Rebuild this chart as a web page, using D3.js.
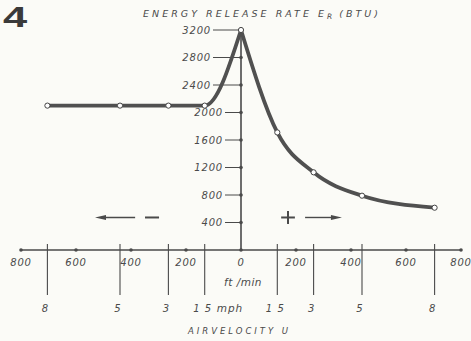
<!DOCTYPE html>
<html>
<head>
<meta charset="utf-8">
<script src="https://cdn.jsdelivr.net/npm/d3@7/dist/d3.min.js"></script>
<style>
  html, body { margin: 0; padding: 0; background: #fbfbf7; }
  svg { display: block; }
  .lt { font-family: "DejaVu Sans", sans-serif; font-style: italic; fill: #4a4a4a; }
</style>
</head>
<body>
<svg id="chart" width="471" height="341"></svg>
<script>
// ---- data ----
const airVelocityFtMin = [-704, -440, -264, -132, 0, 132, 264, 440, 704];
const energyRelease    = [2100, 2100, 2100, 2100, 3200, 1710, 1130, 790, 615];
const yTickValues = [400, 800, 1200, 1600, 2000, 2400, 2800, 3200];
const xTickValues = [-800, -600, -400, -200, 0, 200, 400, 600, 800];
const mphTickValues = [-8, -5, -3, -1.5, 1.5, 3, 5, 8];
const mphTickLabels = ["8", "5", "3", "1 5", "1 5", "3", "5", "8"];
const FT_PER_MIN_PER_MPH = 88;

const svg = d3.select("#chart");
const x = d3.scaleLinear().domain([-800, 800]).range([21, 461]);
const y = d3.scaleLinear().domain([0, 3200]).range([250, 30]);
const ink = "#4a4a4a";

// figure number
svg.append("text").attr("x", 3).attr("y", 27)
  .attr("transform", "translate(3,0) scale(1.45,1) translate(-3,0)")
  .style("font-family", "Liberation Sans, Arial, sans-serif")
  .style("font-weight", "bold").style("font-size", "30px").style("fill", "#3a3a3a")
  .text("4");

// title
const title = svg.append("text").attr("class", "lt")
  .attr("x", 143).attr("y", 17).style("font-size", "9.5px");
title.append("tspan").text("ENERGY RELEASE RATE E");
title.append("tspan").attr("dy", 2).style("font-size", "7.5px").text("R");
title.append("tspan").attr("dy", -2).attr("dx", 4).text("(BTU)");
title.attr("textLength", 235).attr("lengthAdjust", "spacing");

// x axis line
svg.append("line").attr("x1", x(-800)).attr("x2", x(800))
  .attr("y1", y(0)).attr("y2", y(0)).attr("stroke", ink).attr("stroke-width", 1.5);

// y axis line
svg.append("line").attr("x1", x(0)).attr("x2", x(0))
  .attr("y1", y(3200)).attr("y2", y(0)).attr("stroke", ink).attr("stroke-width", 1.6);

// y ticks: leader lines, dots, labels
const yt = svg.append("g").selectAll("g").data(yTickValues).join("g");
yt.append("line")
  .attr("x1", d => d >= 2400 ? 213 : 225).attr("x2", x(0))
  .attr("y1", d => y(d)).attr("y2", d => y(d))
  .attr("stroke", ink).attr("stroke-width", 1);
yt.append("circle").attr("cx", x(0)).attr("cy", d => y(d)).attr("r", 1.8).attr("fill", ink);
yt.append("text").attr("class", "lt")
  .attr("x", d => d >= 2400 ? 211 : 223).attr("y", d => y(d) + 3.5)
  .attr("text-anchor", "end").style("font-size", "10px").style("letter-spacing", "0.8px")
  .text(d => d);

// x ticks: dots and labels
const xt = svg.append("g").selectAll("g").data(xTickValues).join("g");
xt.append("circle").attr("cx", d => x(d)).attr("cy", y(0)).attr("r", 1.8).attr("fill", ink);
xt.append("text").attr("class", "lt")
  .attr("x", d => x(d)).attr("y", 266).attr("text-anchor", "middle")
  .style("font-size", "10px").style("letter-spacing", "0.8px")
  .text(d => Math.abs(d));

// mph scale: vertical lines and labels
const mt = svg.append("g").selectAll("g").data(mphTickValues).join("g");
mt.append("line")
  .attr("x1", d => x(d * FT_PER_MIN_PER_MPH)).attr("x2", d => x(d * FT_PER_MIN_PER_MPH))
  .attr("y1", 244).attr("y2", 295).attr("stroke", ink).attr("stroke-width", 1.1);
mt.append("text").attr("class", "lt")
  .attr("x", d => x(d * FT_PER_MIN_PER_MPH) - 2).attr("y", 312).attr("text-anchor", "middle")
  .style("font-size", "10px").style("letter-spacing", "1px")
  .text((d, i) => mphTickLabels[i]);

svg.append("text").attr("class", "lt").attr("x", 230).attr("y", 312)
  .attr("text-anchor", "middle").style("font-size", "10.5px").style("letter-spacing", "1px").text("mph");
svg.append("text").attr("class", "lt").attr("x", 243).attr("y", 286)
  .attr("text-anchor", "middle").style("font-size", "10.5px").style("letter-spacing", "0.5px").text("ft /min");
svg.append("text").attr("class", "lt").attr("x", 188).attr("y", 334)
  .attr("textLength", 100).attr("lengthAdjust", "spacing")
  .style("font-size", "8.5px").text("AIRVELOCITY U");

// direction annotations
const ay = y(473);
function arrow(x1, x2) {
  const dir = Math.sign(x2 - x1);
  svg.append("line").attr("x1", x1).attr("x2", x2 - dir * 8).attr("y1", ay).attr("y2", ay)
    .attr("stroke", ink).attr("stroke-width", 1.4);
  svg.append("path")
    .attr("d", `M${x2},${ay} L${x2 - dir * 11},${ay - 2.5} L${x2 - dir * 11},${ay + 2.5} Z`)
    .attr("fill", ink);
}
arrow(x(-385), x(-531));
svg.append("line").attr("x1", x(-349)).attr("x2", x(-298)).attr("y1", ay).attr("y2", ay)
  .attr("stroke", ink).attr("stroke-width", 2);
svg.append("line").attr("x1", x(146)).attr("x2", x(196)).attr("y1", ay).attr("y2", ay)
  .attr("stroke", ink).attr("stroke-width", 2);
svg.append("line").attr("x1", x(171)).attr("x2", x(171)).attr("y1", ay - 6.5).attr("y2", ay + 6.5)
  .attr("stroke", ink).attr("stroke-width", 2);
arrow(x(233), x(367));

// curve
const pts = airVelocityFtMin.map((v, i) => ({ v, e: energyRelease[i] }));
const line = d3.line().x(d => x(d.v)).y(d => y(d.e)).curve(d3.curveMonotoneX);
svg.append("path").datum(pts.filter(d => d.v <= 0)).attr("d", line)
  .attr("fill", "none").attr("stroke", "#505050").attr("stroke-width", 3.8).attr("stroke-linecap", "round");
svg.append("path").datum(pts.filter(d => d.v >= 0)).attr("d", line)
  .attr("fill", "none").attr("stroke", "#505050").attr("stroke-width", 3.8).attr("stroke-linecap", "round");

// data points
svg.append("g").selectAll("circle").data(pts).join("circle")
  .attr("cx", d => x(d.v)).attr("cy", d => y(d.e)).attr("r", 2.6)
  .attr("fill", "#ffffff").attr("stroke", "#444").attr("stroke-width", 1);
</script>
</body>
</html>
